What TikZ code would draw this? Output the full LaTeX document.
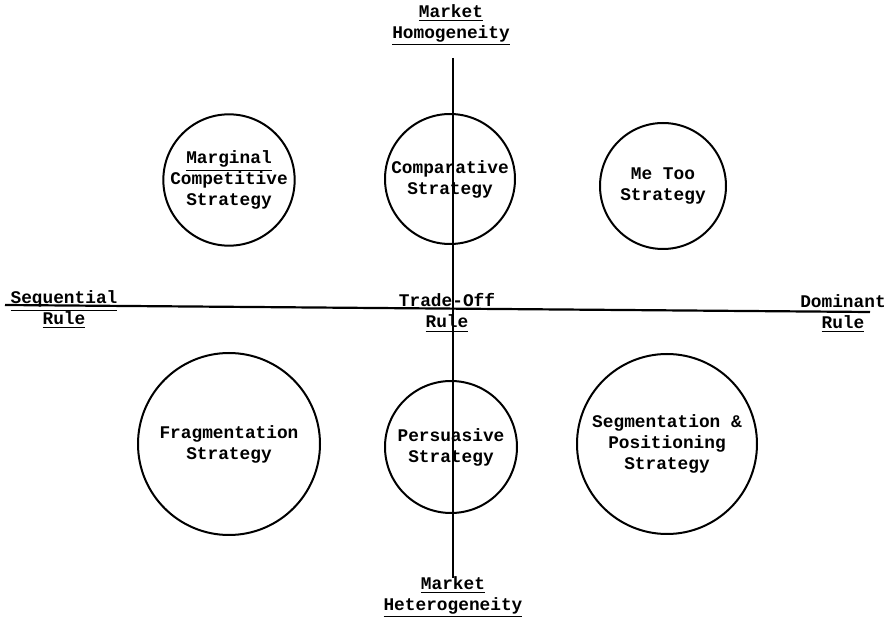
\documentclass[tikz,border=0pt]{standalone}
\usepackage{fontspec}
\setmonofont{Liberation Mono}
\tikzstyle{axis} = [line width=1.1pt]
\tikzstyle{strat} = [circle, draw, line width=1pt, inner sep=0pt]

\begin{document}
\begin{tikzpicture}[
        x=0.5pt, y=-0.5pt,
        font=\ttfamily\bfseries\fontsize{8.9}{10.5}\selectfont,
        every node/.style={align=center}
    ]
        \useasboundingbox (0,0) rectangle (891,626);

        % Axis labels
        \node (homog) at (451,25) {\underline{Market}\\\underline{Homogeneity}};
        \node (heterog) at (453,597) {\underline{Market}\\\underline{Heterogeneity}};
        \node (seq) at (64,310) {\underline{Sequential}\\\underline{Rule}};
        \node (trade) at (447,313) {Trade-Off\\\underline{Rule}};
        \node (dom) at (843,314) {Dominant\\\underline{Rule}};

        % Axis end points
        \coordinate (ntop) at (453,58);
        \coordinate (nbot) at (453,578);
        \coordinate (wend) at (5,305);
        \coordinate (eend) at (870,312);

        \draw[axis] (ntop) -- (nbot);
        \draw[axis] (wend) -- (eend);

        % Strategy circles
        \node[strat, minimum size=64pt] (marginal) at (229,180) {\underline{Marginal}\\Competitive\\Strategy};
        \node[strat, minimum size=65pt] (compar) at (450,179) {Comparative\\Strategy};
        \node[strat, minimum size=63pt] (metoo) at (663,186) {Me Too\\Strategy};
        \node[strat, minimum size=91pt] (fragm) at (229,444) {Fragmentation\\Strategy};
        \node[strat, minimum size=66pt] (persua) at (451,447) {Persuasive\\Strategy};
        \node[strat, minimum size=90pt] (segm) at (667,444) {Segmentation \&\\Positioning\\Strategy};
    \end{tikzpicture}
\end{document}
